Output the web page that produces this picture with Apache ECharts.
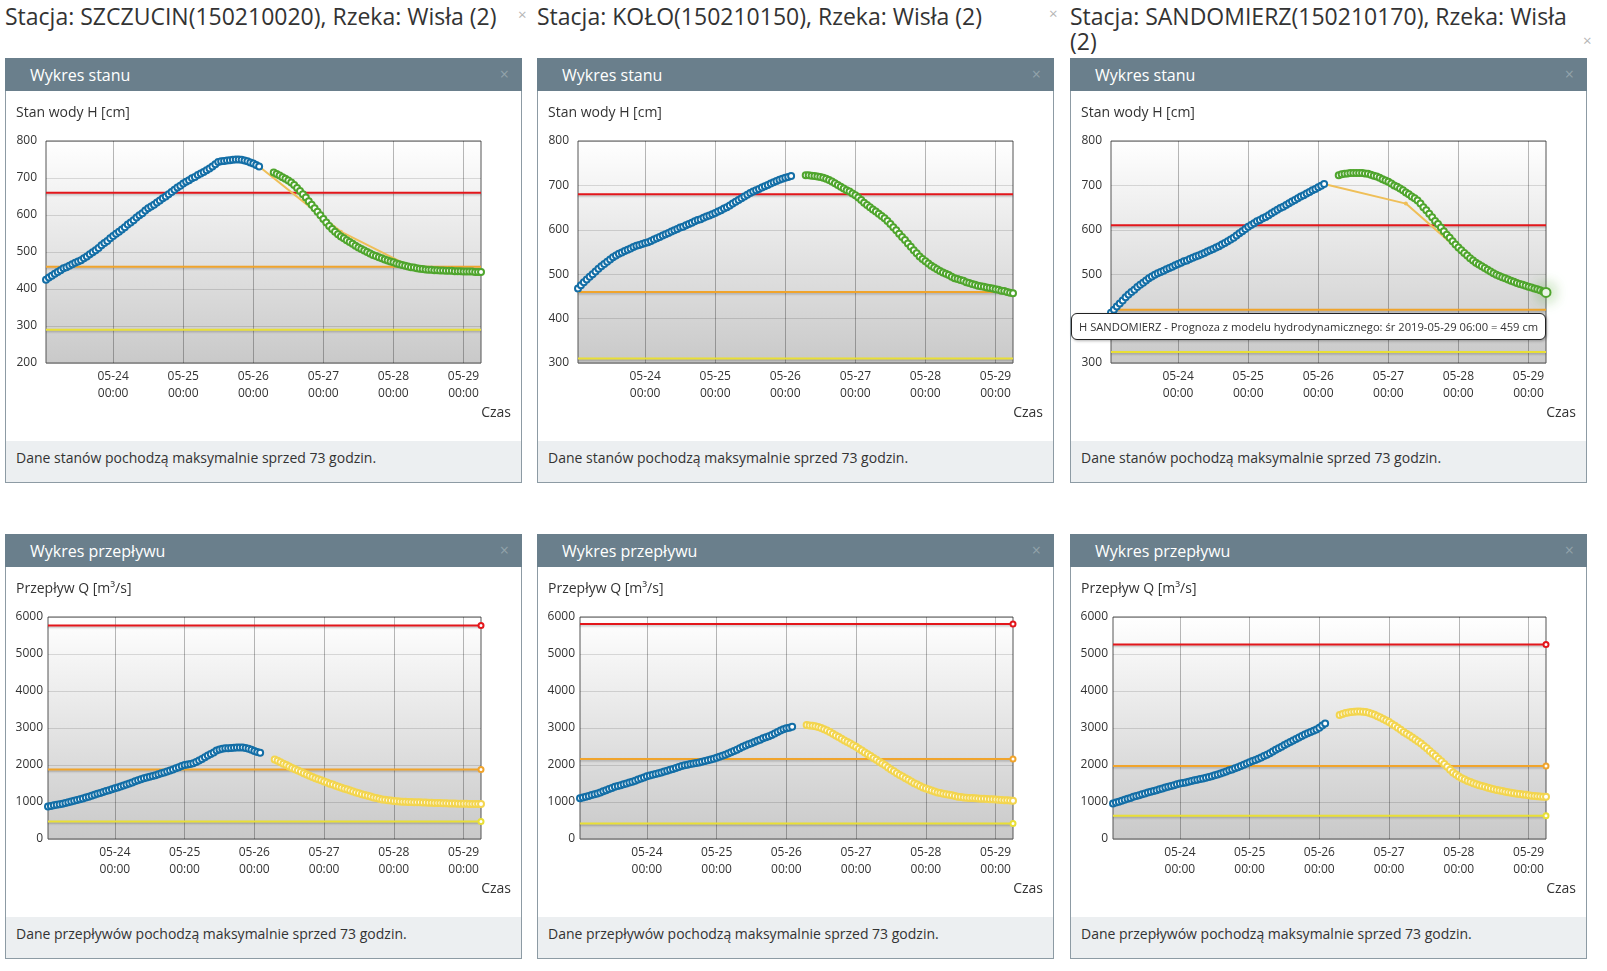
<!DOCTYPE html>
<html><head><meta charset="utf-8">
<script src="https://cdn.jsdelivr.net/npm/echarts@6/dist/echarts.min.js"></script>
<style>
html,body{margin:0;padding:0;background:#fff;}
body{width:1607px;height:971px;position:relative;overflow:hidden;font-family:'Open Sans',sans-serif;color:#333;}
.st{position:absolute;top:4px;font-size:23px;line-height:25px;color:#333;white-space:nowrap;}
.stx{position:absolute;font-size:15px;line-height:15px;color:#b5b5b5;}
.panel{position:absolute;width:517px;height:425px;box-sizing:border-box;border:1px solid #8d9ba4;background:#fff;}
.ph{position:absolute;left:-1px;top:-1px;width:517px;height:33px;background:#6a7f8c;color:#fff;font-size:16px;line-height:33px;}
.ph .t{position:absolute;left:25px;top:1px;}
.ph .x{position:absolute;right:13px;top:0;color:rgba(255,255,255,0.28);font-size:16px;}
.pc{position:absolute;left:0;top:32px;width:515px;height:351px;}
.pf{position:absolute;left:0;bottom:0;width:515px;height:41px;background:#eceff1;font-size:14px;line-height:34px;padding-left:10px;box-sizing:border-box;color:#333;}
</style>
</head><body>
<div class="st" style="left:5px">Stacja: SZCZUCIN(150210020), Rzeka: Wisła (2)</div>
<div class="stx" style="left:518px;top:7px">×</div>
<div class="st" style="left:537px">Stacja: KOŁO(150210150), Rzeka: Wisła (2)</div>
<div class="stx" style="left:1049px;top:6px">×</div>
<div class="st" style="left:1070px">Stacja: SANDOMIERZ(150210170), Rzeka: Wisła<br>(2)</div>
<div class="stx" style="left:1583px;top:33px">×</div>

<div class="panel" style="left:5px;top:58px"><div class="ph"><span class="t">Wykres stanu</span><span class="x">×</span></div><div class="pc" id="c1"></div><div class="pf">Dane stanów pochodzą maksymalnie sprzed 73 godzin.</div></div>
<div class="panel" style="left:537px;top:58px"><div class="ph"><span class="t">Wykres stanu</span><span class="x">×</span></div><div class="pc" id="c2"></div><div class="pf">Dane stanów pochodzą maksymalnie sprzed 73 godzin.</div></div>
<div class="panel" style="left:1070px;top:58px"><div class="ph"><span class="t">Wykres stanu</span><span class="x">×</span></div><div class="pc" id="c3"></div><div class="pf">Dane stanów pochodzą maksymalnie sprzed 73 godzin.</div></div>
<div class="panel" style="left:5px;top:534px"><div class="ph"><span class="t">Wykres przepływu</span><span class="x">×</span></div><div class="pc" id="c4"></div><div class="pf">Dane przepływów pochodzą maksymalnie sprzed 73 godzin.</div></div>
<div class="panel" style="left:537px;top:534px"><div class="ph"><span class="t">Wykres przepływu</span><span class="x">×</span></div><div class="pc" id="c5"></div><div class="pf">Dane przepływów pochodzą maksymalnie sprzed 73 godzin.</div></div>
<div class="panel" style="left:1070px;top:534px"><div class="ph"><span class="t">Wykres przepływu</span><span class="x">×</span></div><div class="pc" id="c6"></div><div class="pf">Dane przepływów pochodzą maksymalnie sprzed 73 godzin.</div></div>

<script>
// ---------- time frame ----------
const obsStart = '2019-05-23 01:00';   // first hourly observation
const fcStart  = '2019-05-26 07:00';   // first hourly forecast value
const axisEnd  = '2019-05-29 06:00';
const tickDates = ['2019-05-24 00:00','2019-05-25 00:00','2019-05-26 00:00','2019-05-27 00:00','2019-05-28 00:00','2019-05-29 00:00'];
const model2Times = ['2019-05-26 02:00','2019-05-27 06:00','2019-05-28 06:00','2019-05-29 06:00'];

// ---------- water level H [cm] ----------
const szczucinH_obs = [425,431,436,441,446,451,456,459,463,467,471,474,478,483,488,494,499,505,511,518,524,530,537,543,549,555,561,567,574,580,586,593,599,605,612,618,623,628,634,639,645,650,656,662,668,674,679,685,690,694,699,703,708,712,716,721,726,731,737,743,745,746,747,748,749,750,750,749,747,745,742,739,735,731];
const szczucinH_fc = [715,711,707,702,698,693,688,681,673,665,656,647,637,628,618,609,599,589,580,570,562,555,548,542,537,532,527,522,517,512,508,504,500,496,492,489,486,483,480,477,474,472,469,467,465,463,461,459,458,456,455,454,453,452,452,451,451,450,450,449,449,449,448,448,448,447,447,447,447,446,446,446];
const szczucinH_model2 = [731,555,460,450];
const koloH_obs = [468,475,482,488,494,500,506,512,518,523,528,533,538,542,546,549,552,555,558,561,564,566,568,570,572,575,578,581,584,587,590,593,596,599,602,605,607,610,613,616,619,622,624,627,630,632,635,638,641,644,648,651,655,659,663,667,671,675,679,683,686,689,692,695,698,701,704,707,710,713,715,717,719,721];
const koloH_fc = [723,723,722,721,720,719,717,715,712,709,705,701,697,693,689,686,682,678,673,667,661,656,651,646,641,636,631,626,620,613,606,599,591,584,577,569,562,554,547,540,534,529,524,519,515,511,507,504,501,498,494,491,489,487,485,482,480,478,476,474,473,472,470,469,468,466,465,463,462,460,458,457];
const sandomierzH_obs = [413,420,427,434,441,448,454,460,465,471,476,481,486,491,495,499,502,505,508,511,514,517,520,523,526,529,531,534,537,540,542,545,548,551,554,557,560,563,567,570,574,578,582,587,592,597,602,607,611,615,619,622,626,629,633,637,641,645,649,652,656,660,664,667,671,675,678,682,685,689,692,696,699,703];
const sandomierzH_fc = [723,725,726,727,728,728,728,728,728,727,726,724,722,720,717,714,711,708,704,700,697,693,689,684,680,675,671,666,659,651,644,636,628,620,613,605,597,589,582,574,567,560,554,548,542,536,531,526,522,518,514,510,506,502,499,496,493,491,488,485,483,480,478,476,474,472,470,468,466,464,461,459];
const sandomierzH_model2 = [703,659,521,462];

// ---------- discharge Q [m3/s] ----------
const szczucinQ_obs = [880,895,910,925,940,955,975,995,1015,1035,1055,1075,1095,1120,1145,1170,1195,1220,1245,1270,1295,1320,1345,1370,1395,1420,1445,1470,1500,1530,1560,1590,1615,1640,1660,1680,1700,1725,1750,1775,1800,1825,1850,1880,1910,1940,1970,2000,2015,2030,2045,2080,2120,2165,2210,2260,2300,2340,2390,2420,2440,2450,2455,2460,2465,2470,2475,2470,2460,2440,2410,2380,2350,2330];
const szczucinQ_fc = [2150,2115,2075,2035,2000,1960,1920,1885,1850,1815,1780,1745,1710,1675,1645,1615,1585,1555,1525,1495,1470,1440,1410,1385,1360,1335,1310,1285,1260,1235,1210,1190,1170,1150,1125,1105,1085,1070,1060,1050,1040,1030,1020,1015,1010,1005,1000,998,995,992,990,987,984,980,977,975,972,970,967,965,962,960,958,956,954,952,950,949,948,947,946,945];
const koloQ_obs = [1100,1120,1140,1165,1190,1210,1230,1260,1290,1320,1350,1380,1410,1430,1455,1480,1500,1525,1545,1575,1605,1635,1665,1695,1715,1735,1760,1780,1800,1825,1845,1870,1895,1920,1945,1970,1995,2010,2025,2040,2055,2070,2090,2110,2130,2150,2170,2195,2220,2250,2280,2310,2345,2380,2415,2450,2490,2525,2560,2590,2625,2655,2685,2720,2750,2780,2810,2850,2890,2935,2965,2990,3010,3035];
const koloQ_fc = [3080,3070,3060,3045,3025,3000,2965,2930,2890,2845,2800,2755,2710,2665,2620,2580,2535,2490,2440,2390,2340,2290,2240,2190,2140,2090,2040,1990,1935,1880,1830,1780,1730,1690,1645,1600,1555,1510,1470,1430,1395,1365,1335,1310,1285,1260,1240,1225,1210,1195,1180,1160,1145,1135,1125,1115,1110,1105,1100,1095,1090,1085,1080,1075,1072,1068,1062,1056,1050,1045,1040,1035];
const sandomierzQ_obs = [960,985,1010,1035,1060,1085,1110,1140,1165,1185,1210,1230,1255,1275,1300,1320,1345,1365,1390,1410,1435,1455,1480,1500,1515,1530,1550,1565,1585,1600,1620,1635,1655,1675,1695,1720,1745,1770,1795,1825,1855,1880,1910,1940,1970,2005,2040,2075,2105,2135,2170,2205,2240,2280,2320,2365,2410,2450,2495,2540,2580,2625,2665,2705,2745,2785,2825,2860,2895,2925,2960,3010,3065,3120];
const sandomierzQ_fc = [3350,3380,3405,3420,3435,3440,3445,3445,3440,3430,3410,3385,3355,3320,3285,3245,3205,3160,3110,3060,3005,2950,2895,2845,2795,2740,2690,2635,2580,2515,2450,2380,2310,2240,2170,2100,2030,1955,1875,1800,1740,1690,1645,1605,1570,1540,1510,1480,1455,1430,1410,1385,1365,1345,1325,1310,1295,1280,1265,1250,1235,1225,1215,1205,1195,1185,1170,1160,1155,1150,1145,1140];

// ---------- warning levels (SZCZUCIN, KOŁO, SANDOMIERZ) ----------
const hAlarm = [660, 680, 610];
const hWarn  = [460, 460, 420];
const hLow   = [290, 310, 325];
const qAlarm = [5770, 5810, 5260];
const qWarn  = [1880, 2160, 1970];
const qLow   = [470, 420, 630];

const stations = ['SZCZUCIN', 'KOŁO', 'SANDOMIERZ'];
const dayNames = ['nd','pn','wt','śr','cz','pt','so'];

// ---------- helpers ----------
const FONT = "'Open Sans', sans-serif";
const HOUR = 3600000;
function ts(s){ const [d,t]=s.split(' '); const [Y,M,D]=d.split('-').map(Number); const [h,m]=t.split(':').map(Number); return Date.UTC(Y,M-1,D,h,m); }
const xMin = ts(obsStart), xMax = ts(axisEnd);
const ticks = tickDates.map(ts);
function p2(n){ return String(n).padStart(2,'0'); }
function fmtTick(v){ const d=new Date(v); return p2(d.getUTCMonth()+1)+'-'+p2(d.getUTCDate())+'\n'+p2(d.getUTCHours())+':'+p2(d.getUTCMinutes()); }
function fmtFull(v){ const d=new Date(v); return dayNames[d.getUTCDay()]+' '+d.getUTCFullYear()+'-'+p2(d.getUTCMonth()+1)+'-'+p2(d.getUTCDate())+' '+p2(d.getUTCHours())+':'+p2(d.getUTCMinutes()); }
function hourly(start, arr){ const t0=ts(start); return arr.map((v,i)=>[t0+i*HOUR, v]); }
function pairs(times, arr){ return times.map((t,i)=>[ts(t), arr[i]]); }

const C = {blue:'#136ea6', green:'#4fa52d', yellowFc:'#f3d54f', model2:'#efbf58', red:'#e3161b', orange:'#f0a42c', yellow:'#e9df36'};

function thresholdSeries(v, color, endMarker){
  return {type:'line', silent:true, clip:false, z:2,
    data:[{value:[xMin,v], symbol:'none'}, {value:[xMax,v]}],
    symbol: endMarker ? 'circle' : 'none', symbolSize:5, showSymbol:endMarker,
    itemStyle:{color:'#fff', borderColor:color, borderWidth:2},
    lineStyle:{color:color, width:2, shadowColor:'rgba(0,0,0,0.22)', shadowBlur:2, shadowOffsetY:1.5},
    emphasis:{disabled:true}};
}
function pointSeries(name, data, color, extra){
  return Object.assign({type:'line', name:name, data:data, clip:false, z:4,
    symbol:'circle', symbolSize:6, showSymbol:true,
    itemStyle:{color:'#fff', borderColor:color, borderWidth:2},
    lineStyle:{color:color, width:2},
    emphasis:{disabled:true}}, extra || {});
}

function build(elId, cfg){
  const chart = echarts.init(document.getElementById(elId), null, {width:515, height:351, renderer:'canvas'});
  const series = [
    thresholdSeries(cfg.low, C.yellow, cfg.endMarkers),
    thresholdSeries(cfg.warn, C.orange, cfg.endMarkers),
    thresholdSeries(cfg.alarm, C.red, cfg.endMarkers)
  ];
  if (cfg.model2) {
    series.push({type:'line', name:'model2', data:pairs(model2Times, cfg.model2), clip:false, z:3,
      symbol:'circle', symbolSize:4, itemStyle:{color:C.model2}, lineStyle:{color:C.model2, width:2}, emphasis:{disabled:true}});
  }
  series.push(pointSeries(cfg.prefix + ' ' + cfg.station + ' - Pomiar', hourly(obsStart, cfg.obs), C.blue));
  const fcIndex = series.length;
  const fcExtra = cfg.tip ? {emphasis:{disabled:false, scale:1.5, itemStyle:{shadowBlur:16, shadowColor:'rgba(79,165,45,0.95)'}, lineStyle:{width:2}}} : {};
  series.push(pointSeries(cfg.prefix + ' ' + cfg.station + ' - Prognoza z modelu hydrodynamicznego', hourly(fcStart, cfg.fc), cfg.fcColor, fcExtra));

  const titleStyle = {fontSize:14, fontWeight:'normal', color:'#333', fontFamily:FONT, lineHeight:20};
  const option = {
    animation:false,
    textStyle:{fontFamily:FONT},
    title:[
      {text:cfg.yName, left:10, top:12, padding:0, textStyle:titleStyle},
      {text:'Czas', right:10, top:312, padding:0, textStyle:titleStyle}
    ],
    grid:{left:cfg.gridLeft, right:40, top:50, bottom:79, show:true,
      backgroundColor:{type:'linear', x:0, y:0, x2:0, y2:1, colorStops:[{offset:0, color:'#ffffff'},{offset:1, color:'#c9c9c9'}]},
      borderColor:'#555', borderWidth:1},
    xAxis:{type:'value', min:xMin, max:xMax,
      axisLine:{show:false}, axisTick:{show:false, customValues:ticks},
      axisLabel:{customValues:ticks, formatter:fmtTick, fontSize:12, color:'#333', lineHeight:17, margin:5, fontFamily:FONT},
      splitLine:{show:true, lineStyle:{color:'rgba(0,0,0,0.28)', width:1}}},
    yAxis:{type:'value', min:cfg.yMin, max:cfg.yMax, interval:cfg.yInterval,
      axisLine:{show:false}, axisTick:{show:false},
      axisLabel:{formatter:v=>String(v), fontSize:12, color:'#333', margin:cfg.labelMargin, fontFamily:FONT},
      splitLine:{show:true, lineStyle:{color:'rgba(0,0,0,0.13)', width:1}}},
    tooltip: cfg.tip ? {trigger:'item', triggerOn:'none', alwaysShowContent:true, transitionDuration:0,
      position:[0,222], backgroundColor:'#fff', borderColor:'#222', borderWidth:1, padding:[4,7],
      textStyle:{fontSize:11.2, color:'#333', fontFamily:FONT},
      extraCssText:'border-radius:6px;box-shadow:1px 1px 3px rgba(0,0,0,0.3);white-space:nowrap;',
      formatter:p=>p.seriesName + ': ' + fmtFull(p.value[0]) + ' = ' + p.value[1] + ' ' + cfg.unit} : {show:false},
    series:series
  };
  chart.setOption(option);
  if (cfg.tip) {
    const last = cfg.fc.length - 1;
    chart.dispatchAction({type:'highlight', seriesIndex:fcIndex, dataIndex:last});
    chart.dispatchAction({type:'showTip', seriesIndex:fcIndex, dataIndex:last});
  }
}

const hCommon = {prefix:'H', yName:'Stan wody H [cm]', unit:'cm', yMax:800, yInterval:100, gridLeft:40, labelMargin:9, endMarkers:false, fcColor:C.green};
const qCommon = {prefix:'Q', yName:'Przepływ Q [m³/s]', unit:'m³/s', yMin:0, yMax:6000, yInterval:1000, gridLeft:42, labelMargin:5, endMarkers:true, fcColor:C.yellowFc};

build('c1', Object.assign({}, hCommon, {station:stations[0], yMin:200, obs:szczucinH_obs, fc:szczucinH_fc, model2:szczucinH_model2, alarm:hAlarm[0], warn:hWarn[0], low:hLow[0]}));
build('c2', Object.assign({}, hCommon, {station:stations[1], yMin:300, obs:koloH_obs, fc:koloH_fc, alarm:hAlarm[1], warn:hWarn[1], low:hLow[1]}));
build('c3', Object.assign({}, hCommon, {station:stations[2], yMin:300, obs:sandomierzH_obs, fc:sandomierzH_fc, model2:sandomierzH_model2, alarm:hAlarm[2], warn:hWarn[2], low:hLow[2], tip:true}));
build('c4', Object.assign({}, qCommon, {station:stations[0], obs:szczucinQ_obs, fc:szczucinQ_fc, alarm:qAlarm[0], warn:qWarn[0], low:qLow[0]}));
build('c5', Object.assign({}, qCommon, {station:stations[1], obs:koloQ_obs, fc:koloQ_fc, alarm:qAlarm[1], warn:qWarn[1], low:qLow[1]}));
build('c6', Object.assign({}, qCommon, {station:stations[2], obs:sandomierzQ_obs, fc:sandomierzQ_fc, alarm:qAlarm[2], warn:qWarn[2], low:qLow[2]}));
</script>
</body></html>
